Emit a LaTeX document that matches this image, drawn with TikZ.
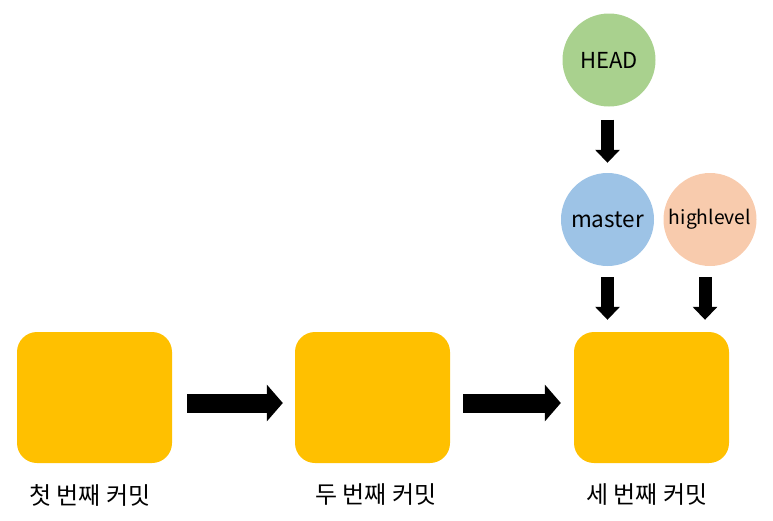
\documentclass[tikz,border=0pt]{standalone}
\usepackage{fontspec}
\setmainfont{Noto Sans CJK KR}
\usetikzlibrary{arrows.meta}
\definecolor{boxc}{HTML}{FFC000}
\definecolor{headc}{HTML}{A9D18E}
\definecolor{masterc}{HTML}{9DC3E6}
\definecolor{hlc}{HTML}{F8CBAD}
\begin{document}
\begin{tikzpicture}[x=1pt,y=-1pt,
  commit/.style={fill=boxc,draw=none,rounded corners=20pt,minimum width=155pt,minimum height=131pt,inner sep=0pt},
  refc/.style={circle,draw=none,minimum size=93pt,inner sep=0pt,text=black},
  harrow/.style={line width=19pt,-{Triangle[length=16pt,width=36pt]},black},
  varrow/.style={line width=13pt,-{Triangle[length=13pt,width=24pt]},black},
  lbl/.style={font=\fontsize{24}{28}\selectfont,inner sep=0pt}]
\useasboundingbox (0,0) rectangle (773,520);
\node[commit] (c1) at (94.5,397.5) {};
\node[commit] (c2) at (372.5,397.5) {};
\node[commit] (c3) at (651.5,397.5) {};
\node[lbl] (l1) at (90,495) {첫 번째 커밋};
\node[lbl] (l2) at (376,495) {두 번째 커밋};
\node[lbl] (l3) at (647,495) {세 번째 커밋};
\node[refc,fill=headc,font=\fontsize{22}{26}\selectfont] (head) at (609,60) {HEAD};
\node[refc,fill=masterc,font=\fontsize{22.5}{26}\selectfont] (master) at (607.5,219.5) {master};
\node[refc,fill=hlc,font=\fontsize{19.3}{22}\selectfont] (hl) at (710,219.5) {highlevel};
\draw[harrow] ([shift={(15pt,-5.5pt)}]c1.east) -- ([shift={(-12pt,-5.5pt)}]c2.west);
\draw[harrow] ([shift={(13pt,-5.5pt)}]c2.east) -- ([shift={(-13pt,-5.5pt)}]c3.west);
\draw[varrow] ([shift={(-1.5pt,-13pt)}]head.south) -- ([yshift=10pt]master.north);
\draw[varrow] ([yshift=-11pt]master.south) -- ([shift={(-44pt,12pt)}]c3.north);
\draw[varrow] ([shift={(-5pt,-11pt)}]hl.south) -- ([shift={(53.5pt,12pt)}]c3.north);
\end{tikzpicture}
\end{document}
